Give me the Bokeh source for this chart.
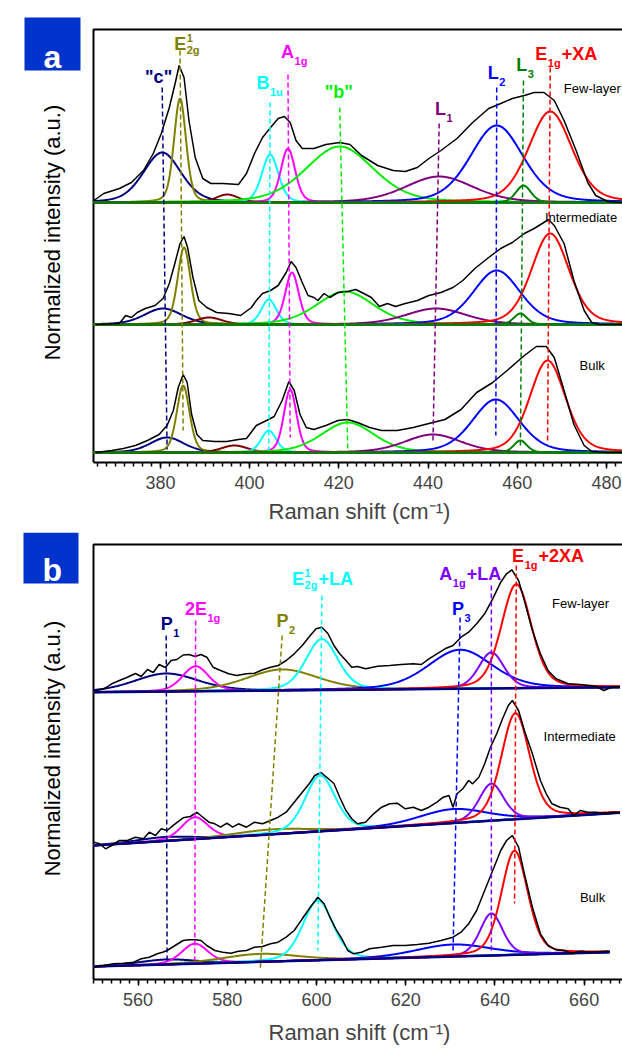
import numpy as np
from bokeh.plotting import figure
from bokeh.models import Range1d, SingleIntervalTicker, Title
from bokeh.layouts import column
from bokeh.core.properties import value
from bokeh.embed import file_html
from bokeh.resources import INLINE

FONT = "Liberation Sans"

# ======================= DATA : panel a =======================
A_XLIM = (365, 483.6)
A_STACKS = ["Few-layer", "Intermediate", "Bulk"]
A_OFFSETS = [2.60, 1.38, 0.10]

A_PEAKS = ['"c"', "E2g1", "unassigned", "B1u", "A1g", '"b"', "L1", "L2", "L3", "E1g+XA"]
A_COLORS = ["#000080", "#808000", "#800000", "#00FFFF", "#FF00FF",
            "#00EE00", "#800080", "#0000FF", "#008000", "#FF0000"]
A_CENTER = {
    "Few-layer":    [380.4, 384.4, 395.0, 404.6, 408.6, 420.2, 442.5, 455.4, 461.4, 467.4],
    "Intermediate": [380.6, 385.3, 390.9, 404.3, 409.5, 421.4, 441.8, 455.4, 460.7, 467.4],
    "Bulk":         [381.5, 385.1, 396.6, 404.3, 409.1, 422.0, 441.1, 455.2, 460.7, 466.8],
}
A_HEIGHT = {
    "Few-layer":    [0.50, 1.04, 0.08, 0.48, 0.54, 0.56, 0.26, 0.77, 0.17, 0.91],
    "Intermediate": [0.16, 0.77, 0.07, 0.25, 0.52, 0.33, 0.16, 0.54, 0.11, 0.91],
    "Bulk":         [0.15, 0.67, 0.07, 0.22, 0.63, 0.30, 0.18, 0.53, 0.12, 0.92],
}
A_FWHM = {
    "Few-layer":    [10.0, 3.2, 6.0, 4.4, 3.8, 18.0, 18.0, 14.0, 4.0, 11.5],
    "Intermediate": [10.0, 3.4, 7.0, 4.0, 3.6, 15.0, 16.0, 12.5, 3.5, 10.0],
    "Bulk":         [9.0, 3.4, 7.0, 4.0, 3.4, 14.0, 15.0, 12.5, 3.5, 9.5],
}

A_FEW_X = [365.1, 367.3, 370.8, 373.5, 376.2, 378.4, 380.2, 382.0, 383.3, 384.2,
           385.3, 386.4, 387.8, 389.5, 391.3, 394.0, 397.5, 399.3, 401.1, 402.9,
           404.7, 406.4, 407.8, 409.1, 410.4, 411.8, 414.4, 417.1, 420.2, 422.5,
           425.1, 428.7, 432.2, 434.9, 437.6, 440.2, 442.9, 446.5, 450.0, 453.6,
           456.3, 458.9, 461.6, 463.8, 466.0, 468.3, 470.5, 473.2, 475.8, 477.6,
           480.3, 483.6]
A_FEW_I = [0.02, 0.09, 0.14, 0.20, 0.32, 0.49, 0.69, 0.95, 1.19, 1.37,
           1.25, 0.82, 0.45, 0.24, 0.19, 0.19, 0.18, 0.29, 0.49, 0.65,
           0.75, 0.84, 0.86, 0.80, 0.62, 0.54, 0.54, 0.58, 0.60, 0.58,
           0.47, 0.37, 0.32, 0.31, 0.35, 0.44, 0.52, 0.64, 0.80, 0.94,
           0.99, 1.04, 1.07, 1.10, 1.10, 1.02, 0.82, 0.52, 0.20, 0.07,
           0.01, 0.00]
A_INT_X = [365.5, 370.8, 372.2, 373.5, 374.8, 376.6, 378.8, 380.6, 382.0, 383.3,
           384.4, 385.3, 386.1, 387.3, 388.6, 390.4, 392.6, 395.3, 398.0, 399.8,
           400.4, 401.5, 402.9, 404.7, 406.4, 408.2, 409.3, 410.4, 411.8, 413.1,
           414.4, 415.3, 416.7, 418.0, 419.8, 422.0, 423.8, 425.6, 427.3, 429.1,
           430.9, 432.7, 434.9, 437.6, 440.2, 442.9, 445.6, 447.8, 450.5, 453.6,
           456.3, 458.9, 461.6, 463.8, 465.6, 467.0, 468.3, 470.5, 472.7, 475.0,
           476.7, 478.5, 481.2, 483.6]
A_INT_I = [0.00, 0.01, 0.09, 0.07, 0.12, 0.16, 0.19, 0.26, 0.41, 0.62,
           0.81, 0.88, 0.77, 0.47, 0.24, 0.17, 0.12, 0.11, 0.09, 0.15,
           0.17, 0.24, 0.31, 0.34, 0.39, 0.52, 0.63, 0.57, 0.42, 0.29,
           0.27, 0.24, 0.31, 0.27, 0.32, 0.33, 0.35, 0.31, 0.27, 0.18,
           0.21, 0.18, 0.21, 0.24, 0.29, 0.32, 0.37, 0.44, 0.56, 0.67,
           0.76, 0.82, 0.91, 0.96, 1.01, 1.05, 0.99, 0.81, 0.44, 0.14,
           0.02, 0.00, 0.00, 0.00]
A_BULK_X = [365.5, 369.1, 371.7, 374.4, 377.1, 379.7, 381.5, 382.9, 384.0, 385.1,
            386.0, 387.0, 388.2, 389.5, 392.2, 394.9, 397.5, 399.3, 401.5, 403.8,
            405.5, 407.3, 408.8, 410.0, 411.3, 412.7, 414.4, 417.1, 419.8, 422.0,
            424.2, 426.9, 429.6, 433.1, 436.7, 440.2, 443.8, 447.4, 450.9, 454.5,
            458.0, 461.6, 464.3, 466.5, 468.3, 470.5, 472.7, 475.0, 476.7, 480.3,
            483.6]
A_BULK_I = [0.00, 0.02, 0.04, 0.07, 0.12, 0.18, 0.27, 0.42, 0.65, 0.78,
            0.70, 0.38, 0.18, 0.12, 0.11, 0.11, 0.13, 0.14, 0.27, 0.32,
            0.36, 0.52, 0.71, 0.62, 0.38, 0.25, 0.23, 0.27, 0.32, 0.33,
            0.30, 0.25, 0.22, 0.22, 0.25, 0.29, 0.33, 0.43, 0.60, 0.70,
            0.83, 0.97, 1.06, 1.06, 0.95, 0.62, 0.28, 0.07, 0.01, 0.00,
            0.00]
A_BLACK = {"Few-layer": (A_FEW_X, A_FEW_I),
           "Intermediate": (A_INT_X, A_INT_I),
           "Bulk": (A_BULK_X, A_BULK_I)}

# ======================= DATA : panel b =======================
B_XLIM = (550, 668.6)
B_STACKS = ["Few-layer", "Intermediate", "Bulk"]
B_PEAKS = ["P1", "2E1g", "P2", "E2g1+LA", "P3", "A1g+LA", "E1g+2XA"]
B_COLORS = ["#000080", "#FF00FF", "#808000", "#00FFFF", "#0000FF", "#8000FF", "#FF0000"]
B_BG_X = [550.0, 668.6]
B_BG = {"Few-layer": [2.873, 2.923], "Intermediate": [1.34, 1.67], "Bulk": [0.13, 0.277]}
B_END = {"Few-layer": 668.0, "Intermediate": 668.0, "Bulk": 665.7}
B_CENTER = {
    "Few-layer":    [566.3, 572.9, 592.3, 601.2, 632.2, 639.2, 644.8],
    "Intermediate": [566.0, 572.7, 590.1, 600.8, 630.6, 639.2, 644.6],
    "Bulk":         [566.5, 572.7, 587.4, 600.3, 630.6, 639.2, 644.4],
}
B_HEIGHT = {
    "Few-layer":    [0.18, 0.25, 0.21, 0.51, 0.39, 0.36, 1.04],
    "Intermediate": [0.04, 0.22, 0.05, 0.56, 0.14, 0.37, 1.06],
    "Bulk":         [0.05, 0.20, 0.08, 0.60, 0.12, 0.42, 1.04],
}
B_FWHM = {
    "Few-layer":    [17.0, 7.0, 19.0, 8.5, 17.0, 6.7, 8.0],
    "Intermediate": [15.0, 7.0, 20.0, 8.0, 18.0, 6.5, 7.5],
    "Bulk":         [15.0, 7.0, 20.0, 8.0, 20.0, 6.0, 7.0],
}

B_FEW_X = [550.1, 552.3, 554.1, 555.8, 557.6, 559.4, 560.7, 562.1, 563.4, 564.7,
           566.1, 567.4, 568.7, 570.1, 571.4, 572.8, 574.1, 575.4, 576.8, 578.5,
           580.3, 582.1, 584.3, 586.1, 587.9, 589.7, 591.4, 593.2, 595.0, 596.8,
           598.6, 599.9, 601.2, 602.6, 603.9, 605.2, 606.6, 607.9, 609.2, 611.0,
           613.7, 616.4, 619.0, 621.7, 623.5, 625.2, 627.0, 628.8, 630.6, 632.4,
           634.1, 635.9, 637.7, 639.5, 641.3, 642.6, 643.8, 645.3, 646.6, 648.4,
           650.2, 651.9, 653.7, 656.4, 659.1, 662.6, 664.4, 666.2, 668.0]
B_FEW_Y = [2.883, 2.907, 2.957, 2.990, 3.023, 3.060, 3.030, 3.100, 3.070, 3.150,
           3.120, 3.190, 3.200, 3.245, 3.250, 3.230, 3.250, 3.223, 3.123, 3.090,
           3.057, 3.040, 3.057, 3.063, 3.097, 3.123, 3.140, 3.190, 3.257, 3.340,
           3.440, 3.507, 3.523, 3.457, 3.340, 3.257, 3.190, 3.123, 3.130, 3.107,
           3.133, 3.140, 3.150, 3.157, 3.150, 3.207, 3.257, 3.307, 3.340, 3.423,
           3.473, 3.557, 3.657, 3.807, 3.973, 4.057, 4.097, 3.990, 3.790, 3.490,
           3.257, 3.090, 3.007, 2.957, 2.950, 2.933, 2.890, 2.923, 2.930]
B_INT_X = [550.1, 551.4, 552.7, 554.1, 555.8, 557.6, 559.4, 561.2, 562.5, 563.9,
           565.2, 566.5, 568.3, 570.1, 571.7, 573.2, 574.5, 575.9, 577.2, 578.5,
           579.9, 581.2, 582.5, 584.3, 586.1, 587.9, 589.7, 591.4, 593.2, 595.0,
           596.8, 598.4, 599.6, 601.0, 602.6, 603.9, 605.2, 606.6, 607.9, 609.2,
           611.0, 612.8, 614.6, 616.4, 618.1, 619.9, 621.7, 623.5, 625.2, 627.0,
           628.4, 629.7, 630.6, 631.5, 632.8, 634.1, 635.0, 636.4, 637.7, 639.0,
           640.4, 641.7, 643.0, 643.9, 645.3, 646.6, 648.4, 650.2, 651.5, 652.8,
           654.6, 656.4, 657.7, 659.1, 660.8, 662.6, 664.4, 666.2, 668.0]
B_INT_Y = [1.373, 1.357, 1.307, 1.340, 1.390, 1.390, 1.423, 1.407, 1.473, 1.440,
           1.507, 1.490, 1.557, 1.617, 1.630, 1.673, 1.623, 1.573, 1.557, 1.523,
           1.563, 1.523, 1.557, 1.523, 1.573, 1.557, 1.590, 1.623, 1.673, 1.773,
           1.873, 1.960, 2.040, 2.070, 2.010, 1.960, 1.823, 1.690, 1.607, 1.557,
           1.573, 1.657, 1.723, 1.757, 1.763, 1.707, 1.723, 1.690, 1.723, 1.773,
           1.823, 1.840, 1.723, 1.857, 1.907, 1.990, 1.957, 2.023, 2.157, 2.323,
           2.457, 2.607, 2.740, 2.790, 2.690, 2.490, 2.257, 1.990, 1.857, 1.757,
           1.723, 1.707, 1.640, 1.690, 1.673, 1.673, 1.663, 1.673, 1.667]
B_BULK_X = [550.1, 552.3, 554.5, 556.7, 559.0, 560.7, 562.5, 564.3, 565.5, 566.5,
            568.3, 570.1, 571.4, 572.8, 574.1, 575.4, 577.2, 579.0, 580.8, 582.5,
            584.3, 586.1, 587.9, 589.7, 591.4, 593.2, 595.0, 596.8, 598.6, 600.3,
            601.7, 603.0, 604.3, 605.7, 607.0, 608.3, 610.1, 611.9, 614.6, 617.2,
            619.9, 622.6, 625.2, 627.9, 630.6, 632.4, 634.1, 635.9, 637.7, 639.5,
            641.3, 642.6, 643.9, 645.3, 646.6, 648.4, 650.2, 651.9, 653.7, 655.5,
            657.3, 659.1, 661.7, 664.4, 665.7]
B_BULK_Y = [0.123, 0.140, 0.157, 0.163, 0.173, 0.207, 0.223, 0.257, 0.273, 0.290,
            0.340, 0.390, 0.397, 0.397, 0.390, 0.340, 0.290, 0.273, 0.263, 0.283,
            0.290, 0.323, 0.330, 0.357, 0.373, 0.423, 0.490, 0.607, 0.723, 0.823,
            0.757, 0.623, 0.507, 0.407, 0.290, 0.257, 0.273, 0.307, 0.323, 0.340,
            0.340, 0.350, 0.363, 0.390, 0.423, 0.473, 0.557, 0.690, 0.890, 1.090,
            1.290, 1.390, 1.440, 1.323, 1.057, 0.723, 0.457, 0.340, 0.297, 0.290,
            0.263, 0.283, 0.273, 0.283, 0.283]
B_BLACK = {"Few-layer": (B_FEW_X, B_FEW_Y),
           "Intermediate": (B_INT_X, B_INT_Y),
           "Bulk": (B_BULK_X, B_BULK_Y)}

Y_TITLE = "Normalized intensity (a.u.)"
X_TITLE = "Raman shift (cm\u207b\u00b9)"

# ======================= STYLE / PLACEMENT =======================
LORENTZ_FRACTION = 0.3
FRAME_LEFT_PX = 93        # pixels left of the axes box (panel letter + y title)
AXES_W_PX = 529
X_TITLE_LEFT_PX = 268
A_YTOP, B_YTOP = 4.33, 4.35           # top of the axes box (data units)
A_YMAX, B_YMAX = 4.62, 4.47           # top of the drawing area
A_GUIDE = [(3.75, 0.13), (4.12, 0.32), None, (3.60, 0.12), (3.88, 0.25),
           (3.55, 0.14), (3.39, 0.19), (3.75, 0.27), (3.82, 0.14), (3.95, 0.22)]
B_GUIDE = [(3.44, 0.19), (3.59, 0.19), (3.44, 0.11), (3.84, 0.29),
           (3.62, 0.27), (3.94, 0.29), (4.14, 0.76)]
A_LABELS = [(379.6, 3.853, '"c"', None, None, None, 0),
            (384.44, 4.187, "E", "1", "2g", None, 1),
            (403.0, 3.795, "B", None, "1u", None, 3),
            (408.5, 4.103, "A", None, "1g", None, 4),
            (420.0, 3.703, '"b"', None, None, None, 5),
            (442.8, 3.537, "L", None, "1", None, 6),
            (454.6, 3.895, "L", None, "2", None, 7),
            (461.0, 3.978, "L", None, "3", None, 8),
            (465.4, 4.082, "E", None, "1g", "+XA", 9)]
A_STATE_POS = [(470.45, 3.745), (466.2, 2.45), (473.97, 0.97)]
B_LABELS = [(566.4, 3.557, "P", None, "1", None, 0),
            (572.96, 3.707, "2E", None, "1g", None, 1),
            (592.4, 3.59, "P", None, "2", None, 2),
            (595.86, 4.007, "E", "1", "2g", "+LA", 3),
            (631.7, 3.707, "P", None, "3", None, 4),
            (629.0, 4.057, "A", None, "1g", "+LA", 5),
            (645.2, 4.235, "E", None, "1g", "+2XA", 6)]
B_STATE_POS = [(652.8, 3.763), (650.9, 2.43), (659.05, 0.823)]
A_TAG = dict(box=(24, 80, 17, 70), letter=(52, 56.7), title=(52, 232))
B_TAG = dict(box=(23, 78, 0, 51), letter=(51.7, 37.3), title=(52, 216))

EM = {"E": 0.667, "A": 0.722, "B": 0.722, "L": 0.611, "P": 0.667, "2": 0.556,
      "1": 0.556, "g": 0.611, "u": 0.611, "3": 0.556}


def pvoigt(x, c, h, w):
    t = ((x - c) / (w / 2.0)) ** 2
    return h * (LORENTZ_FRACTION / (1 + t) + (1 - LORENTZ_FRACTION) * np.exp(-np.log(2) * t))


def txt(p, x, y, s, color, size, bold=True, align="center", dx=0, dy=0,
        baseline="middle", angle=0.0):
    p.text(x=[x], y=[y], text=[s], text_color=color, text_font=value(FONT),
           text_font_size=f"{size}px", text_font_style="bold" if bold else "normal",
           text_align=align, text_baseline=baseline, x_offset=dx, y_offset=dy,
           angle=angle)


def peak_label(p, spec, colors):
    x, y, main, sup, sub, tail, ci = spec
    color = colors[ci]
    MS, SS = 18, 11
    txt(p, x, y, main, color, MS)
    half = sum(EM.get(ch, 0.6) for ch in main) * MS / 2.0
    sw = 0
    if sup:
        txt(p, x, y, sup, color, SS, align="left", dx=half + 0.5, dy=-6)
        sw = max(sw, sum(EM.get(ch, 0.6) for ch in sup) * SS)
    if sub:
        txt(p, x, y, sub, color, SS, align="left", dx=half + 0.5, dy=6 if sup else 9)
        sw = max(sw, sum(EM.get(ch, 0.6) for ch in sub) * SS)
    if tail:
        txt(p, x, y, tail, color, MS, align="left", dx=half + sw + 1.5)


def make_fig(xlim, ytop, ymax, height, bbot, tag, letter, title_standoff):
    upp = (xlim[1] - xlim[0]) / AXES_W_PX          # data units per pixel (x)
    xlo = xlim[0] - FRAME_LEFT_PX * upp
    p = figure(width=622, height=height, x_range=Range1d(xlo, xlim[1]),
               y_range=Range1d(0, ymax), output_backend="svg", toolbar_location=None,
               min_border_left=0, min_border_right=0, min_border_top=0,
               min_border_bottom=bbot, title=None)
    p.outline_line_color = None
    p.xgrid.visible = False
    p.ygrid.visible = False
    p.yaxis.visible = False
    xa = p.xaxis[0]
    xa.bounds = (xlim[0], xlim[1])
    xa.ticker = SingleIntervalTicker(interval=20, num_minor_ticks=10)
    xa.major_label_text_font = FONT
    xa.major_label_text_font_size = "18px"
    xa.major_label_standoff = 7
    xa.axis_line_width = 2
    xa.major_tick_out = 6
    xa.major_tick_in = 0
    xa.minor_tick_out = 4
    xa.minor_tick_in = 0
    xa.major_tick_line_width = 1.5
    xa.minor_tick_line_width = 1.5
    p.add_layout(Title(text=X_TITLE, align="left", offset=X_TITLE_LEFT_PX,
                       text_font=FONT, text_font_style="normal", text_font_size="22px",
                       standoff=title_standoff), "below")
    # left and top edges of the axes box
    p.line([xlim[0], xlim[0], xlim[1]], [0, ytop, ytop], line_color="black", line_width=2)
    # panel tag and y title (pixel placements converted to data)
    ypp = ymax / (height - bbot)
    px2x = lambda px: xlo + px * upp
    py2y = lambda py: ymax - py * ypp
    b = tag["box"]
    p.quad(left=px2x(b[0]), right=px2x(b[1]), top=py2y(b[2]), bottom=py2y(b[3]),
           fill_color="#0033CC", line_color=None)
    txt(p, px2x(tag["letter"][0]), py2y(tag["letter"][1]), letter, "white", 32,
        baseline="alphabetic")
    txt(p, px2x(tag["title"][0]), py2y(tag["title"][1]), Y_TITLE, "black", 22,
        bold=False, angle=np.pi / 2)
    return p


# ---------------- panel a ----------------
pa = make_fig(A_XLIM, A_YTOP, A_YMAX, 532, 70, A_TAG, "a", 10)
xa_grid = np.linspace(A_XLIM[0], A_XLIM[1], 800)
for st, off in zip(A_STACKS, A_OFFSETS):
    for k in range(len(A_PEAKS)):
        yk = off + pvoigt(xa_grid, A_CENTER[st][k], A_HEIGHT[st][k], A_FWHM[st][k])
        pa.line(xa_grid, yk, line_color=A_COLORS[k], line_width=2)
    pa.line([A_XLIM[0], A_XLIM[1]], [off, off], line_color="#008000", line_width=2.5)
    bx, bi = A_BLACK[st]
    pa.line(bx, [off + v for v in bi], line_color="black", line_width=1.5)
for k, g in enumerate(A_GUIDE):
    if g is None:
        continue
    pa.line([A_CENTER["Few-layer"][k], A_CENTER["Bulk"][k]], [g[0], g[1]],
            line_color=A_COLORS[k], line_width=1.5, line_dash="5 3")
for spec in A_LABELS:
    peak_label(pa, spec, A_COLORS)
for st, (sx, sy) in zip(A_STACKS, A_STATE_POS):
    txt(pa, sx, sy, st, "black", 13, bold=False, align="left")

# ---------------- panel b ----------------
pb = make_fig(B_XLIM, B_YTOP, B_YMAX, 525, 78, B_TAG, "b", 19)
for st in B_STACKS:
    xg = np.linspace(B_XLIM[0], B_END[st], 800)
    bg = np.interp(xg, B_BG_X, B_BG[st])
    for k in range(len(B_PEAKS)):
        yk = bg + pvoigt(xg, B_CENTER[st][k], B_HEIGHT[st][k], B_FWHM[st][k])
        pb.line(xg, yk, line_color=B_COLORS[k], line_width=2)
    pb.line([B_XLIM[0], B_END[st]], list(np.interp([B_XLIM[0], B_END[st]], B_BG_X, B_BG[st])),
            line_color="#000080", line_width=2.5)
    bx, by = B_BLACK[st]
    pb.line(bx, by, line_color="black", line_width=1.5)
for k, g in enumerate(B_GUIDE):
    pb.line([B_CENTER["Few-layer"][k], B_CENTER["Bulk"][k]], [g[0], g[1]],
            line_color=B_COLORS[k], line_width=1.5, line_dash="5 3")
for spec in B_LABELS:
    peak_label(pb, spec, B_COLORS)
for st, (sx, sy) in zip(B_STACKS, B_STATE_POS):
    txt(pb, sx, sy, st, "black", 13, bold=False, align="left")

layout = column(pa, pb, spacing=0)
open("out.html", "w").write(file_html(layout, INLINE))
